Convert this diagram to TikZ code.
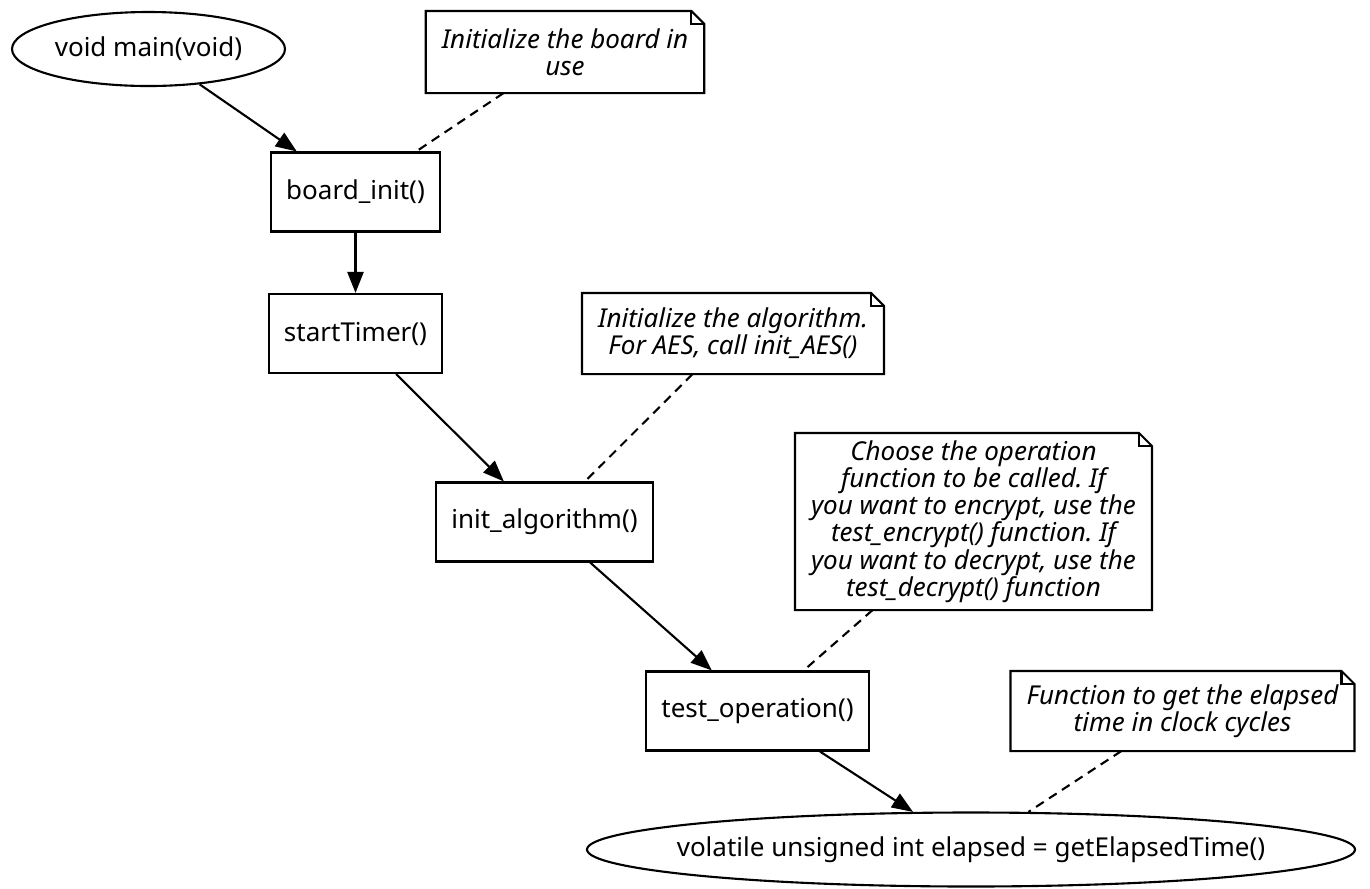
\documentclass[tikz,border=0pt]{standalone}
\usepackage{fontspec}
\setmainfont{Noto Sans}
\usepackage{tikz}
\usetikzlibrary{arrows.meta}
\usetikzlibrary{shapes.geometric}
\newcommand{\dfont}{\fontsize{7.4}{7.75}\selectfont}
\tikzstyle{fn} = [rectangle, draw, inner xsep=0.15cm, minimum height=0.79cm]
\tikzstyle{oval} = [ellipse, draw, inner sep=0pt, minimum height=0.74cm]
\tikzstyle{memo} = [rectangle, inner xsep=0.15cm, inner ysep=0.06cm, align=center, font=\dfont\itshape]
\tikzstyle{flow} = [-{Triangle[length=6pt,width=4.6pt]}]
\tikzstyle{tie} = [dash pattern=on 2.6pt off 1.8pt]

\begin{document}
\frenchspacing
\begin{tikzpicture}
				[x=1cm, y=-1cm,
				line width=0.6pt,
				font=\dfont
				]
				\useasboundingbox (0,0) rectangle (13.7,8.88);
				\draw (1.485,0.49) node[oval, minimum width=2.73cm](main){void main(void)};
				\draw (3.555,1.92) node[fn](board){board\_init()};
				\draw (3.555,3.335) node[fn](timer){startTimer()};
				\draw (5.445,5.22) node[fn](algo){init\_algorithm()};
				\draw (7.575,7.11) node[fn](oper){test\_operation()};
				\draw (9.71,8.495) node[oval, minimum width=7.68cm,
					label=center:{volatile unsigned int elapsed = getElapsedTime()}](elapsed){};
				% notes
				\draw (5.65,0.52) node[memo, minimum height=0.8cm](note1){Initialize the board in\\use};
				\draw (7.33,3.335) node[memo, minimum height=0.79cm](note2){Initialize the algorithm.\\For AES, call init\_AES()};
				\draw (9.735,5.215) node[memo, minimum height=1.75cm](note3){Choose the operation\\function to be called. If\\you want to encrypt, use the\\test\_encrypt() function. If\\you want to decrypt, use the\\test\_decrypt() function};
				\draw (11.825,7.11) node[memo, minimum height=0.78cm](note4){Function to get the elapsed\\time in clock cycles};
				\foreach \n in {note1,note2,note3,note4}
				{
				\draw (\n.south west) -- (\n.north west) -- ([xshift=-0.13cm]\n.north east)
					-- ([yshift=-0.13cm]\n.north east) -- (\n.south east) -- cycle;
				\draw ([xshift=-0.13cm]\n.north east) |- ([yshift=-0.13cm]\n.north east);
				}
				\foreach \from/\to in {main/board,board/timer,timer/algo,algo/oper,oper/elapsed}
				\draw[flow] (\from) -- (\to);
				\foreach \from/\to in {note1/board,note2/algo,note3/oper,note4/elapsed}
				\draw[tie] (\from) -- (\to);
			\end{tikzpicture}
\end{document}
